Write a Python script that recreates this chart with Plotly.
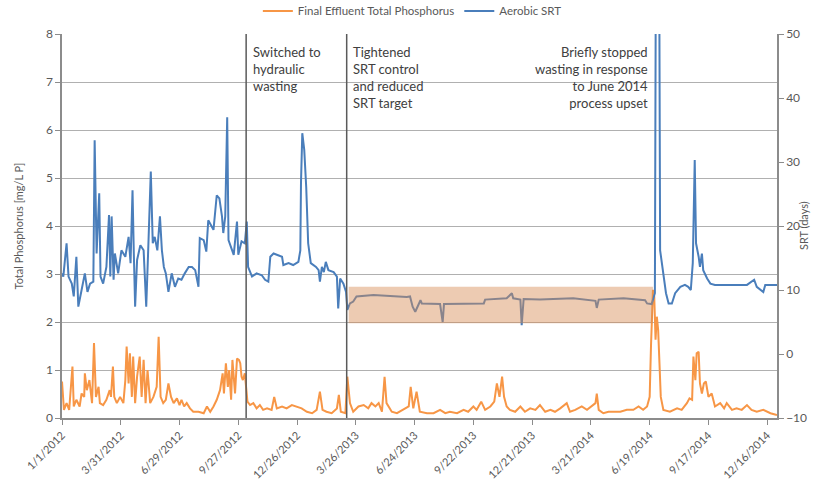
import pandas as pd
import plotly.graph_objects as go

base = pd.Timestamp("2012-01-01")

# Aerobic SRT (days) — day offset from 1/1/2012 and value
srt_days = [0,2,7,10,15,18,22,25,30,35,39,43,48,50,53,57,59,63,68,72,74,76,79,81,86,91,97,102,105,108,110,112,115,120,125,129,132,136,139,142,146,150,153,156,159,163,168,173,178,183,188,194,199,204,209,211,217,221,224,229,232,237,241,245,247,250,253,255,260,263,268,270,275,280,283,285,291,298,306,311,316,319,324,329,337,339,347,354,362,365,366,368,371,374,377,381,385,389,393,395,398,401,404,408,416,421,423,426,431,435,437,441,446,451,477,502,528,533,537,541,546,549,551,579,583,585,646,648,681,689,691,702,704,707,732,783,817,819,822,860,893,896,903,908,910,914,916,921,925,929,934,939,947,954,959,963,966,969,971,975,977,980,982,988,993,1000,1028,1049,1060,1064,1074,1077,1095]
srt_values = [12.6,12.1,17.3,12.1,11.0,9.0,15.2,7.4,10.0,12.6,9.7,11.0,11.3,33.4,15.7,25.1,12.1,11.0,13.6,21.7,12.1,21.5,11.6,15.7,12.6,16.2,15.2,18.3,14.2,25.6,15.7,7.4,14.7,17.0,16.2,7.4,16.2,28.5,17.3,18.3,16.2,21.5,16.2,13.6,12.6,9.7,12.6,10.5,11.8,11.6,12.6,13.6,13.6,13.1,10.5,18.1,17.8,16.0,20.9,19.9,19.4,24.8,24.3,21.5,18.9,21.5,37.0,17.8,16.2,15.5,20.7,15.5,17.6,17.3,20.7,13.6,12.1,12.6,12.3,11.6,11.3,15.2,15.7,15.5,15.2,13.9,14.2,13.9,14.4,16.2,26.7,34.5,31.9,26.1,17.3,14.2,13.9,13.6,13.1,11.3,13.6,12.8,14.4,13.1,12.8,12.1,7.1,11.8,11.0,9.7,6.9,7.9,8.2,9.0,9.2,9.1,8.9,9.0,7.4,6.6,7.9,8.4,7.9,7.8,5.0,7.8,7.9,8.5,8.7,9.5,8.7,8.5,4.5,8.6,8.5,8.7,8.3,7.2,8.5,8.7,8.4,7.9,7.8,9.5,80,80,16.2,12.6,9.5,7.9,7.9,9.5,10.5,10.8,10.5,10.0,14.2,30.3,17.3,15.2,13.6,15.7,13.1,11.8,11.0,10.8,10.8,10.8,11.6,10.5,9.7,10.8,10.8]

# Final effluent total phosphorus (mg/L P)
tp_days = [0,3,7,11,16,18,22,27,30,34,35,38,42,46,49,52,56,58,63,68,73,75,78,80,84,89,94,97,99,102,104,107,109,112,115,119,122,125,128,131,135,140,145,148,151,155,159,163,167,171,176,180,183,187,191,196,201,209,217,222,227,232,237,242,246,248,251,254,256,259,261,265,268,271,273,275,277,280,284,288,293,298,303,308,314,321,325,329,337,344,352,360,367,375,383,390,395,399,405,413,421,424,427,434,437,441,446,454,462,469,474,480,485,490,494,497,505,513,523,531,534,538,543,548,559,569,579,587,594,605,615,622,630,635,642,648,656,662,666,670,674,677,681,686,694,702,709,717,725,732,740,748,755,763,773,778,786,796,804,811,817,819,822,829,837,845,855,865,875,883,890,896,900,902,905,907,909,911,913,915,917,921,931,942,949,957,961,965,967,970,972,975,977,980,983,986,990,995,1000,1008,1014,1018,1026,1033,1041,1049,1056,1064,1074,1085,1095]
tp_values = [0.76,0.17,0.31,0.17,1.07,0.24,0.38,0.24,0.51,0.44,0.93,0.58,0.79,0.31,1.56,0.44,0.65,0.31,0.27,0.38,0.58,0.44,1.07,0.44,0.31,0.44,0.31,0.79,1.49,0.72,1.35,0.44,1.28,0.31,0.86,1.28,0.44,1.21,0.31,1.0,0.31,0.44,0.65,1.69,0.44,0.31,0.38,0.72,0.44,0.31,0.41,0.27,0.38,0.24,0.31,0.2,0.13,0.13,0.1,0.24,0.13,0.24,0.38,0.58,0.93,0.51,1.14,0.65,1.0,0.38,1.21,0.51,1.24,1.21,1.14,0.86,0.79,0.93,0.34,0.27,0.31,0.2,0.27,0.17,0.2,0.17,0.44,0.2,0.24,0.2,0.27,0.24,0.2,0.13,0.1,0.17,0.55,0.17,0.13,0.1,0.2,0.48,0.13,0.1,0.86,0.31,0.13,0.24,0.27,0.2,0.31,0.24,0.31,0.13,0.86,0.31,0.13,0.1,0.17,0.24,0.65,0.2,0.55,0.13,0.1,0.1,0.17,0.1,0.13,0.1,0.17,0.13,0.24,0.17,0.34,0.17,0.24,0.34,0.72,0.44,0.86,0.44,0.24,0.17,0.13,0.24,0.13,0.2,0.17,0.27,0.13,0.17,0.13,0.2,0.31,0.13,0.17,0.24,0.17,0.24,0.31,0.51,0.17,0.1,0.13,0.13,0.13,0.17,0.17,0.24,0.17,0.24,0.44,1.49,2.67,2.53,1.63,2.11,1.83,1.14,0.44,0.17,0.13,0.2,0.17,0.31,0.41,0.38,1.28,0.79,1.35,1.38,0.72,0.51,0.72,0.76,0.44,0.51,0.24,0.31,0.2,0.31,0.17,0.2,0.17,0.27,0.17,0.13,0.17,0.1,0.06]

tick_labels = ["1/1/2012","3/31/2012","6/29/2012","9/27/2012","12/26/2012","3/26/2013",
               "6/24/2013","9/22/2013","12/21/2013","3/21/2014","6/19/2014","9/17/2014","12/16/2014"]

event_dates = ["2012-10-09", "2013-03-12"]
target_band = [4.8, 10.5]          # SRT target band (days)
target_period = ["2013-03-15", "2014-06-24"]

srt_x = [base + pd.Timedelta(days=d) for d in srt_days]
tp_x = [base + pd.Timedelta(days=d) for d in tp_days]
tick_vals = pd.to_datetime(tick_labels, format="%m/%d/%Y")

ORANGE = "#F79646"
BLUE = "#4A7EBB"
FONT = "Lato"
TXT = "#595959"

fig = go.Figure()
fig.add_trace(go.Scatter(x=tp_x, y=tp_values, mode="lines", name="Final Effluent Total Phosphorus",
                         line=dict(color=ORANGE, width=2), yaxis="y"))
fig.add_trace(go.Scatter(x=srt_x, y=srt_values, mode="lines", name="Aerobic SRT",
                         line=dict(color=BLUE, width=2), yaxis="y2"))

for d in event_dates:
    fig.add_shape(type="line", xref="x", yref="paper", x0=d, x1=d, y0=0, y1=1,
                  line=dict(color="#5a5a5a", width=1.5), layer="above")

fig.add_shape(type="rect", xref="x", yref="y2", x0=target_period[0], x1=target_period[1],
              y0=target_band[0], y1=target_band[1], fillcolor="rgba(214,140,85,0.45)",
              line=dict(width=0), layer="above")

ann_font = dict(family=FONT, size=13, color="#404040")
fig.add_annotation(x="2012-10-16", y=7.84, xref="x", yref="y", text="Switched to<br>hydraulic<br>wasting",
                   showarrow=False, xanchor="left", yanchor="top", align="left", font=ann_font)
fig.add_annotation(x="2013-03-19", y=7.84, xref="x", yref="y", text="Tightened<br>SRT control<br>and reduced<br>SRT target",
                   showarrow=False, xanchor="left", yanchor="top", align="left", font=ann_font)
fig.add_annotation(x="2014-06-19", y=7.84, xref="x", yref="y", text="Briefly stopped<br>wasting in response<br>to June 2014<br>process upset",
                   showarrow=False, xanchor="right", yanchor="top", align="right", font=ann_font)
fig.add_annotation(x=1.0364, y=0.5, xref="paper", yref="paper", text="SRT (days)", textangle=-90,
                   showarrow=False, xanchor="center", yanchor="middle", font=dict(size=11, color=TXT))

fig.update_layout(
    width=824, height=483,
    margin=dict(l=62, r=47, t=34, b=65, autoexpand=False),
    paper_bgcolor="white", plot_bgcolor="white",
    font=dict(family=FONT, size=11, color=TXT),
    showlegend=True,
    legend=dict(orientation="h", x=0.49, xanchor="center", y=1.06, yanchor="middle",
                font=dict(size=11.5, color=TXT), bgcolor="rgba(0,0,0,0)"),
    xaxis=dict(type="date", range=["2012-01-01", "2014-12-31"], tickvals=tick_vals, ticktext=tick_labels,
               tickangle=-45, showgrid=False, showline=True, linecolor="#8c8c8c", linewidth=1.5,
               ticks="outside", ticklen=5, tickcolor="#8c8c8c", tickfont=dict(size=11, color=TXT), zeroline=False),
    yaxis=dict(range=[0, 8], dtick=1, showgrid=True, gridcolor="#b0b0b0", gridwidth=1.2,
               showline=True, linecolor="#8c8c8c", linewidth=1.5, ticks="outside", ticklen=5,
               tickcolor="#8c8c8c", zeroline=False, tickfont=dict(size=12, color=TXT),
               title=dict(text="Total Phosphorus [mg/L P]", font=dict(size=11, color=TXT), standoff=20)),
    yaxis2=dict(range=[-10, 50], dtick=10, overlaying="y", side="right", showgrid=False,
                showline=True, linecolor="#8c8c8c", linewidth=1.5, ticks="outside", ticklen=5,
                tickcolor="#8c8c8c", zeroline=False, tickfont=dict(size=12, color=TXT)),
)

fig.write_html("out.html", config={"displayModeBar": False},
               post_script="document.body.style.margin='0px';")
